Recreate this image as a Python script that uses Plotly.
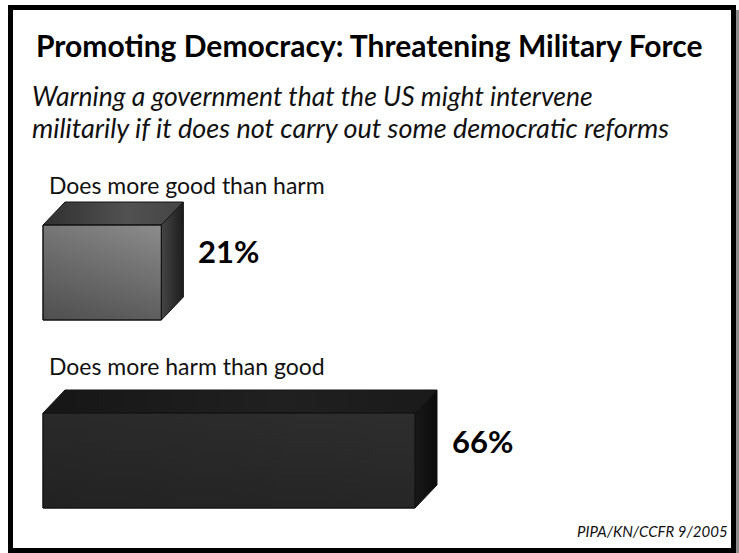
import plotly.graph_objects as go

# ---- data ----
categories = ["Does more good than harm", "Does more harm than good"]
values = [21, 66]
value_labels = ["21%", "66%"]

title = "Promoting Democracy: Threatening Military Force"
subtitle_lines = [
    "Warning a government that the US might intervene",
    "militarily if it does not carry out some democratic reforms",
]
source = "PIPA/KN/CCFR 9/2005"

# ---- layout constants (pixels) ----
W, H = 739, 553
X0_PX = 43                 # left edge of the bars
PX_PER_UNIT = 372 / 66     # horizontal scale
DEPTH_X_PX, DEPTH_Y_PX = 22, 23
BAR_TOPS = [225, 413]      # y of front-face top edge
BAR_H = 95
LABEL_Y = [185, 366]
VALUE_Y = [251, 441]
SUBTITLE_SIZES = [26.5, 27]
FONT = "Lato"

dx = DEPTH_X_PX / PX_PER_UNIT
dy = DEPTH_Y_PX

styles = [
    dict(front=[[0, "#8c8c8c"], [1, "#5e5e5e"]],
         shade=[[0, "rgba(0,0,0,0.16)"], [1, "rgba(0,0,0,0)"]],
         top=[[0, "#303030"], [0.6, "#515151"], [1, "#454545"]],
         side=[[0, "#454545"], [1, "#1c1c1c"]]),
    dict(front=[[0, "#2e2e2e"], [1, "#262626"]],
         shade=[[0, "rgba(0,0,0,0.10)"], [1, "rgba(0,0,0,0)"]],
         top=[[0, "#161616"], [0.6, "#202020"], [1, "#1a1a1a"]],
         side=[[0, "#181818"], [1, "#0c0c0c"]]),
]

fig = go.Figure()


def face(xs, ys, grad_type, scale, start, stop):
    fig.add_trace(go.Scatter(
        x=xs + [xs[0]], y=ys + [ys[0]], mode="lines",
        fill="toself",
        fillgradient=dict(type=grad_type, colorscale=scale, start=start, stop=stop),
        line=dict(color="#151515", width=1),
        hoverinfo="skip", showlegend=False,
    ))


for v, t, st in zip(values, BAR_TOPS, styles):
    b = t + BAR_H
    # top face
    face([0, dx, v + dx, v], [t, t - dy, t - dy, t], "horizontal", st["top"], 0, v + dx)
    # right side face
    face([v, v + dx, v + dx, v], [t, t - dy, b - dy, b], "horizontal", st["side"], v, v + dx)
    # front face: vertical gradient plus a darkening toward the left
    face([0, v, v, 0], [t, t, b, b], "vertical", st["front"], t, b)
    fig.add_trace(go.Scatter(
        x=[0, v, v, 0, 0], y=[t, t, b, b, t], mode="lines", fill="toself",
        fillgradient=dict(type="horizontal", colorscale=st["shade"], start=0, stop=v),
        line=dict(color="#151515", width=1),
        hoverinfo="skip", showlegend=False,
    ))

annotations = []
annotations.append(dict(
    text=f"<b>{title}</b>", x=34 / W, xref="paper", y=45, yref="y",
    xanchor="left", yanchor="middle", showarrow=False,
    font=dict(family=FONT, size=30, color="#000")))
for i, (line, size) in enumerate(zip(subtitle_lines, SUBTITLE_SIZES)):
    annotations.append(dict(
        text=f"<i>{line}</i>", x=30 / W, xref="paper", y=96 + 31 * i, yref="y",
        xanchor="left", yanchor="middle", showarrow=False,
        font=dict(family=FONT, size=size, color="#111")))
for cat, ly in zip(categories, LABEL_Y):
    annotations.append(dict(
        text=cat, x=47 / W, xref="paper", y=ly, yref="y",
        xanchor="left", yanchor="middle", showarrow=False,
        font=dict(family=FONT, size=23, color="#111")))
for v, lab, vy in zip(values, value_labels, VALUE_Y):
    annotations.append(dict(
        text=f"<b>{lab}</b>", x=v + dx + 13 / PX_PER_UNIT, xref="x", y=vy, yref="y",
        xanchor="left", yanchor="middle", showarrow=False,
        font=dict(family=FONT, size=31, color="#000")))
annotations.append(dict(
    text=f"<i>{source}</i>", x=730 / W, xref="paper", y=531, yref="y",
    xanchor="right", yanchor="middle", showarrow=False,
    font=dict(family=FONT, size=15, color="#111")))

shapes = [
    # drop shadow on the right of the frame
    dict(type="rect", xref="paper", yref="paper", x0=736 / W, x1=1.0,
         y0=0, y1=1 - 10 / H, line=dict(width=0), fillcolor="#8e8e8e", layer="below"),
    # frame
    dict(type="rect", xref="paper", yref="paper",
         x0=10.5 / W, x1=733.5 / W, y0=1 - 550.5 / H, y1=1 - 7.5 / H,
         line=dict(color="#000", width=5), fillcolor="rgba(0,0,0,0)"),
]

fig.update_layout(
    width=W, height=H,
    margin=dict(l=0, r=0, t=0, b=0),
    paper_bgcolor="white", plot_bgcolor="white",
    xaxis=dict(range=[-X0_PX / PX_PER_UNIT, (W - X0_PX) / PX_PER_UNIT],
               visible=False, fixedrange=True),
    yaxis=dict(range=[H, 0], visible=False, fixedrange=True),
    annotations=annotations, shapes=shapes,
    showlegend=False,
)

fig.write_html("out.html")
